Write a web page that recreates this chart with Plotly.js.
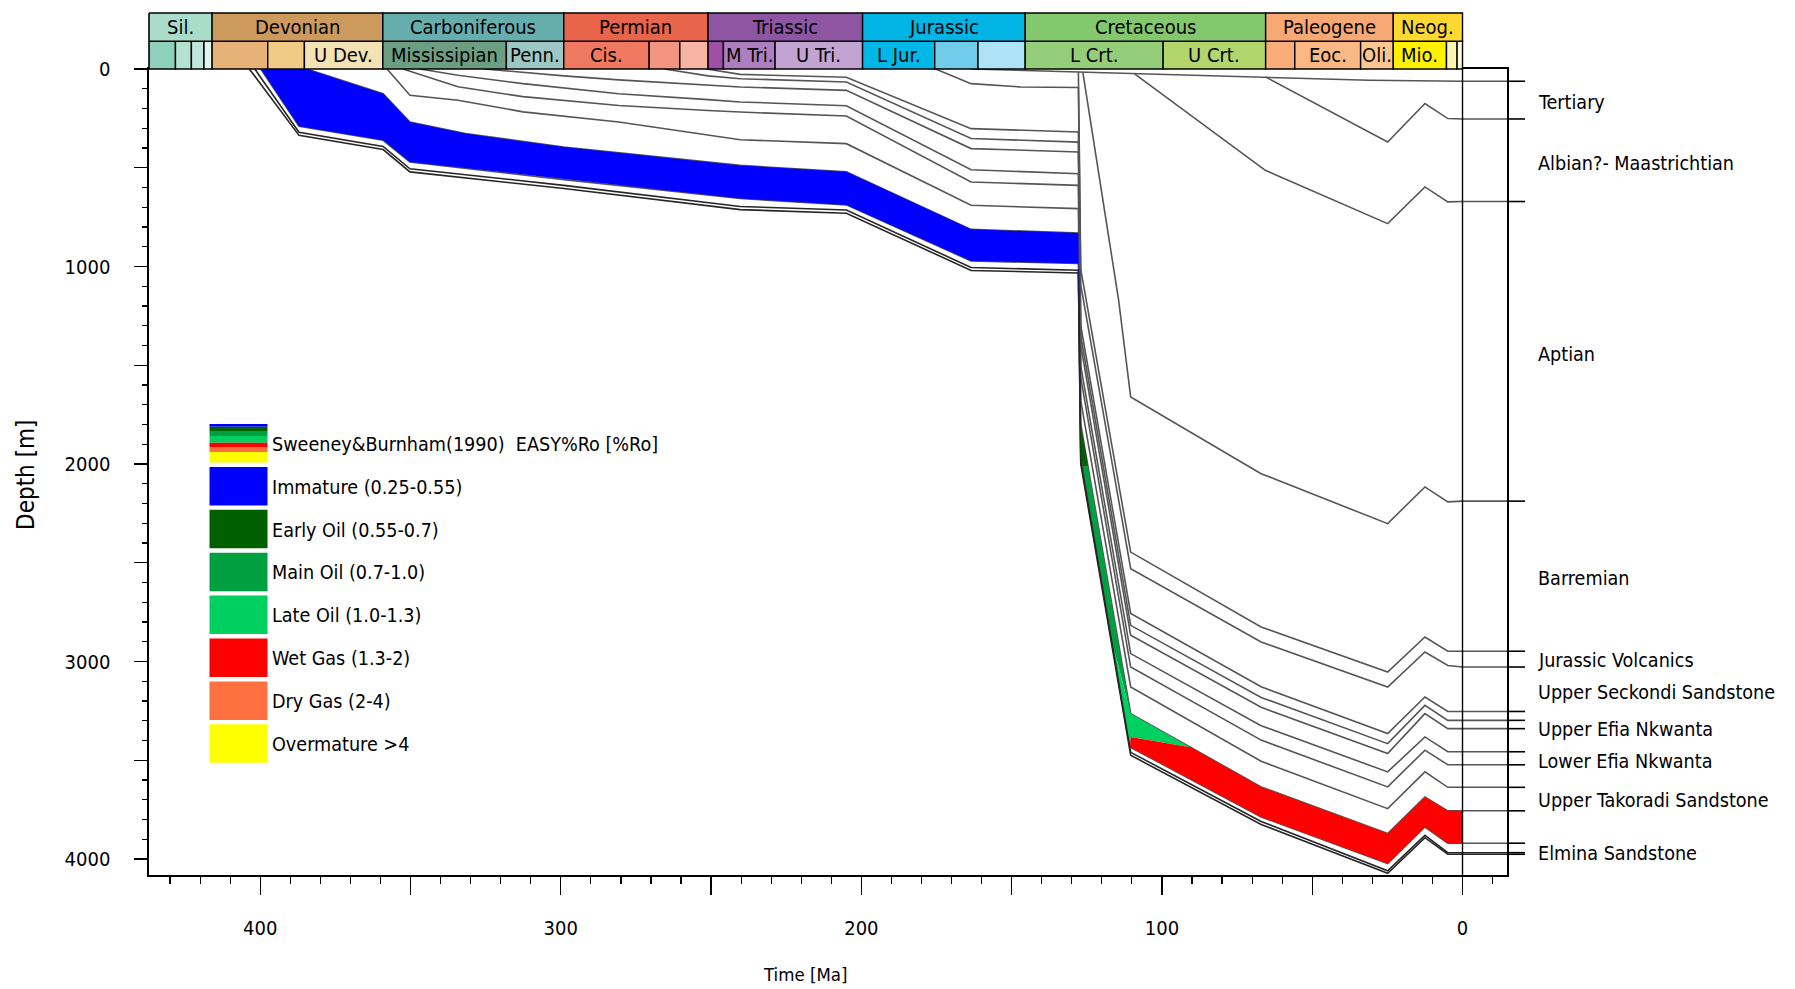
<!DOCTYPE html>
<html>
<head>
<meta charset="utf-8">
<script src="https://cdn.plot.ly/plotly-3.0.1.min.js"></script>
<style>
html, body { margin:0; padding:0; background:#ffffff; }
#chart { width:1795px; height:989px; }
</style>
</head>
<body>
<div id="chart"></div>
<script>
// ================= DATA =================
// Geological time scale (Ma)
const periodNames  = ['Sil.', 'Devonian', 'Carboniferous', 'Permian', 'Triassic', 'Jurassic', 'Cretaceous', 'Paleogene', 'Neog.'];
const periodStart  = [443.7, 416.0, 359.2, 299.0, 251.0, 199.6, 145.5, 65.5, 23.03];
const periodEnd    = [416.0, 359.2, 299.0, 251.0, 199.6, 145.5, 65.5, 23.03, 0];
const periodColors = ['#a9dcc9', '#cc9a5c', '#66adae', '#e8644a', '#8e55a3', '#00b5e4', '#84c86e', '#f8a872', '#ffd932'];

const epochNames  = ['', '', '', '', '', '', 'U Dev.', 'Mississipian', 'Penn.', 'Cis.', '', '', '', 'M Tri.', 'U Tri.', 'L Jur.', '', '', 'L Crt.', 'U Crt.', '', 'Eoc.', 'Oli.', 'Mio.', '', ''];
const epochStart  = [443.7, 428.2, 422.9, 418.7, 416.0, 397.5, 385.3, 359.2, 318.1, 299.0, 270.6, 260.4, 251.0, 245.9, 228.7, 199.6, 175.6, 161.2, 145.5, 99.6, 65.5, 55.8, 33.9, 23.03, 5.332, 1.806];
const epochEnd    = [428.2, 422.9, 418.7, 416.0, 397.5, 385.3, 359.2, 318.1, 299.0, 270.6, 260.4, 251.0, 245.9, 228.7, 199.6, 175.6, 161.2, 145.5, 99.6, 65.5, 55.8, 33.9, 23.03, 5.332, 1.806, 0];
const epochColors = ['#8dd0bc', '#b3e2d3', '#bfe6db', '#e3f4ee', '#e6b278', '#f1ca86', '#f2e2b4', '#6b9e82', '#9cc7c4',
                     '#ee7860', '#f39480', '#f8b5a3', '#a04fa8', '#ae7fbe', '#c2a3d2', '#00b7e6', '#70cce9', '#ade2f7',
                     '#95ce78', '#b3d66c', '#f9ad78', '#fab884', '#fcc690', '#fff200', '#fff5b0', '#fffad8'];

// Burial history horizons: time (Ma) and depth (m)
const topT = [127.8, 98.7, 65.6, 31.1, 0];
const topD = [15, 27, 40, 57, 62];
const tertiaryT = [65.6, 24.9, 12.5, 4.9, 0];
const tertiaryD = [40, 370, 175, 251, 253];
const albianT = [109.1, 65.6, 24.9, 12.5, 4.9, 0];
const albianD = [25, 513, 783, 597, 673, 671];
const aptianT = [126.3, 114.4, 110.4, 67, 24.9, 12.5, 4.9, 0];
const aptianD = [18, 1172, 1661, 2049, 2302, 2116, 2192, 2188];

const h1T = [163.5, 127.8, 127.0, 110.4, 67, 24.9, 12.5, 4.9, 0];
const h1D = [0, 15, 1015, 2446, 2825, 3053, 2876, 2948, 2948];
const h2T = [175.3, 163.5, 147, 127.8, 127.0, 110.4, 67, 24.9, 12.5, 4.9, 0];
const h2D = [0, 74, 91, 94, 1094, 2530, 2901, 3129, 2952, 3020, 3028];
const h3T = [251.5, 240.3, 205, 163.5, 127.8, 127.0, 110.4, 67, 24.9, 12.5, 4.9, 0];
const h3D = [0, 27, 42, 302, 319, 1300, 2757, 3128, 3365, 3180, 3253, 3253];
const h4T = [265.5, 251, 240.3, 205, 163.5, 127.8, 127.0, 110.4, 67, 24.9, 12.5, 4.9, 0];
const h4D = [0, 35, 49, 66, 352, 370, 1350, 2817, 3182, 3416, 3222, 3298, 3298];
const h5T = [325.3, 299, 280.7, 251, 240.3, 205, 163.5, 127.8, 127.0, 110.4, 67, 24.9, 12.5, 4.9, 0];
const h5D = [0, 35, 55, 80, 91, 108, 403, 420, 1400, 2867, 3232, 3466, 3264, 3340, 3340];
const h6T = [346.9, 334.2, 312.6, 280.7, 251, 240.3, 205, 163.5, 127.8, 127.0, 110.4, 67, 24.9, 12.5, 4.9, 0];
const h6D = [0, 32, 74, 125, 155, 167, 186, 510, 530, 1505, 2960, 3325, 3559, 3382, 3457, 3457];
const h7T = [352.5, 334.2, 312.6, 280.7, 251, 240.3, 205, 163.5, 127.8, 127.0, 110.4, 67, 24.9, 12.5, 4.9, 0];
const h7D = [0, 90, 140, 185, 210, 218, 238, 572, 589, 1563, 3028, 3398, 3635, 3449, 3523, 3523];
const h8T = [357.8, 350.2, 334.2, 312.6, 280.7, 251, 240.3, 205, 163.5, 127.8, 127.0, 110.4, 67, 24.9, 12.5, 4.9, 0];
const h8D = [0, 133, 158, 217, 268, 335, 358, 378, 690, 707, 1680, 3129, 3505, 3745, 3559, 3637, 3637];
const h9T = [384.5, 359.1, 350.2, 331.7, 299, 251, 240.3, 205, 163.5, 127.8, 127.0, 110.4, 67, 24.9, 12.5, 4.9, 0];
const h9D = [0, 125, 268, 327, 395, 470, 488, 520, 812, 830, 1800, 3264, 3635, 3871, 3686, 3756, 3756];
const h10T = [399.8, 387.1, 359.1, 350.2, 299, 251, 240.3, 205, 163.5, 127.8, 127.0, 110.4, 67, 24.9, 12.5, 4.9, 0];
const h10D = [0, 290, 361, 471, 560, 638, 656, 688, 972, 985, 1950, 3435, 3787, 4023, 3838, 3920, 3920];
const h11T = [401.8, 387.1, 359.1, 350.2, 299, 251, 240.3, 205, 163.5, 127.8, 127.0, 110.4, 67, 24.9, 12.5, 4.9, 0];
const h11D = [0, 320, 392, 505, 589, 674, 696, 714, 1005, 1019, 1985, 3460, 3810, 4060, 3880, 3968, 3968];
const h12T = [403.6, 387.1, 359.1, 350.2, 299, 251, 240.3, 205, 163.5, 127.8, 127.0, 110.4, 67, 24.9, 12.5, 4.9, 0];
const h12D = [0, 336, 408, 521, 605, 690, 712, 730, 1020, 1033, 2000, 3475, 3825, 4072, 3892, 3976, 3976];

// Maturity (EASY%Ro) zone boundaries inside the source layer (top h9, base h10)
const roImmatureBaseDepth = 1800;   // 0.55 %Ro
const roEarlyOilBaseDepth = 2010;   // 0.7 %Ro
const roMainOilBaseDepthBase = 2930; // 1.0 %Ro on layer base
const roMainOilBaseTimeTop = 110.4;  // 1.0 %Ro on layer top
const roLateOilBaseDepthBase = 3420; // 1.3 %Ro on layer base
const roLateOilT = [110.4];
const roLateOilD = [3382];
const roLateOilTimeTop = 90.5;

// Formation labels (right side)
const formationLabels = ['Tertiary', 'Albian?- Maastrichtian', 'Aptian', 'Barremian', 'Jurassic Volcanics',
  'Upper Seckondi Sandstone', 'Upper Efia Nkwanta', 'Lower Efia Nkwanta', 'Upper Takoradi Sandstone', 'Elmina Sandstone'];
const formationLabelDepth = [168, 480, 1447, 2578, 2996, 3155, 3345, 3504, 3703, 3973];

// Legend
const legendTitle = 'Sweeney&Burnham(1990)\u00a0\u00a0EASY%Ro [%Ro]';
const legendLabels = ['Immature (0.25-0.55)', 'Early Oil (0.55-0.7)', 'Main Oil (0.7-1.0)', 'Late Oil (1.0-1.3)',
  'Wet Gas (1.3-2)', 'Dry Gas (2-4)', 'Overmature >4'];
const legendColors = ['#0000ff', '#006000', '#00a040', '#00d060', '#ff0000', '#ff7040', '#ffff00'];
const gradientShare = [0.07, 0.11, 0.13, 0.18, 0.11, 0.13, 0.27];

// Axis ticks
const xTickVals = [400, 350, 300, 250, 200, 150, 100, 50, 0];
const xTickText = ['400', '', '300', '', '200', '', '100', '', '0'];
const yTickVals = [0, 500, 1000, 1500, 2000, 2500, 3000, 3500, 4000];
const yTickText = ['0', '', '1000', '', '2000', '', '3000', '', '4000'];

// ================= LAYOUT GEOMETRY =================
const W = 1795, H = 989;
const L = 149, R = 1507, T = 69, B = 875;
const X_RANGE = [437, -14.8];
const Y_RANGE = [4081, 0];
const px = X => (X - L) / (R - L);
const py = Y => (B - Y) / (B - T);
const FONT = "'DejaVu Sans Condensed', 'Liberation Sans', sans-serif";

// ================= HELPERS =================
function hz(t, d) { return {t: t, d: d}; }
function depthAt(h, time) {
  for (let i = 0; i < h.t.length - 1; i++) {
    const t0 = h.t[i], t1 = h.t[i + 1];
    if (time <= t0 && time >= t1) {
      const f = t0 === t1 ? 0 : (t0 - time) / (t0 - t1);
      return h.d[i] + f * (h.d[i + 1] - h.d[i]);
    }
  }
  return time > h.t[0] ? h.d[0] : h.d[h.d.length - 1];
}
function timeAt(h, depth, tFrom, tTo) {
  for (let i = 0; i < h.t.length - 1; i++) {
    const t0 = h.t[i], t1 = h.t[i + 1], d0 = h.d[i], d1 = h.d[i + 1];
    if (t0 > tFrom + 1e-9 || t1 < tTo - 1e-9) continue;
    if ((d0 - depth) * (d1 - depth) <= 0 && d0 !== d1) {
      return t0 + (depth - d0) / (d1 - d0) * (t1 - t0);
    }
  }
  return tTo;
}
function seg(h, tA, tB) { // tA older (larger) -> tB younger
  const pts = [[tA, depthAt(h, tA)]];
  for (let i = 0; i < h.t.length; i++) if (h.t[i] < tA && h.t[i] > tB) pts.push([h.t[i], h.d[i]]);
  pts.push([tB, depthAt(h, tB)]);
  return pts;
}

const H_TOP = hz(h9T, h9D), H_BASE = hz(h10T, h10D);
const horizons = [
  hz(topT, topD), hz(tertiaryT, tertiaryD), hz(albianT, albianD), hz(aptianT, aptianD),
  hz(h1T, h1D), hz(h2T, h2D), hz(h3T, h3D), hz(h4T, h4D), hz(h5T, h5D), hz(h6T, h6D),
  hz(h7T, h7D), hz(h8T, h8D), H_TOP, H_BASE, hz(h11T, h11D), hz(h12T, h12D)
];

// ================= MATURITY POLYGONS =================
const riftStart = 127.8, riftEnd = 110.4;
const tg1 = timeAt(H_TOP, roImmatureBaseDepth, riftStart, riftEnd);
const tj1 = timeAt(H_BASE, roImmatureBaseDepth, riftStart, riftEnd);
const tg2 = timeAt(H_TOP, roEarlyOilBaseDepth, riftStart, riftEnd);
const tj2 = timeAt(H_BASE, roEarlyOilBaseDepth, riftStart, riftEnd);
const tj3 = timeAt(H_BASE, roMainOilBaseDepthBase, riftStart, riftEnd);
const tj4 = timeAt(H_BASE, roLateOilBaseDepthBase, riftStart, riftEnd);

function rev(a) { return a.slice().reverse(); }
const zonePolys = [
  seg(H_TOP, H_TOP.t[0], tg1).concat(rev(seg(H_BASE, H_BASE.t[0], tj1))),
  seg(H_TOP, tg1, tg2).concat(rev(seg(H_BASE, tj1, tj2))),
  seg(H_TOP, tg2, roMainOilBaseTimeTop).concat(rev(seg(H_BASE, tj2, tj3))),
  seg(H_TOP, roMainOilBaseTimeTop, roLateOilTimeTop)
    .concat(roLateOilT.map((t, i) => [t, roLateOilD[i]]))
    .concat(rev(seg(H_BASE, tj3, tj4))),
  [[tj4, roLateOilBaseDepthBase]].concat(roLateOilT.map((t, i) => [t, roLateOilD[i]]))
    .concat(seg(H_TOP, roLateOilTimeTop, 0))
    .concat(rev(seg(H_BASE, tj4, 0)))
];

// ================= TRACES =================
const traces = [];
horizons.forEach((h, i) => {
  const tt = h.t.concat([X_RANGE[1]]);
  const dd = h.d.concat([h.d[h.d.length - 1]]);
  traces.push({
    type: 'scatter', mode: 'lines', x: tt, y: dd,
    line: {color: i >= 14 ? '#262626' : '#555555', width: 1.6},
    hoverinfo: 'skip', showlegend: false
  });
});
zonePolys.forEach((poly, i) => {
  traces.push({
    type: 'scatter', mode: 'lines', x: poly.map(p => p[0]), y: poly.map(p => p[1]),
    fill: 'toself', fillcolor: legendColors[i], line: {width: 0, color: legendColors[i]},
    hoverinfo: 'skip', showlegend: false
  });
});

// ================= SHAPES & ANNOTATIONS =================
const shapes = [];
const annotations = [];
const rowBot = 1.0, rowMid = 1.0345, rowTop = 1.0695;
const BAR_FONT = {family: FONT, size: 20, color: '#000'};
const TXT_FONT = {family: FONT, size: 19.6, color: '#000'};

epochStart.forEach((s, i) => {
  shapes.push({type: 'rect', xref: 'x', yref: 'paper', x0: s, x1: epochEnd[i], y0: rowBot, y1: rowMid,
    fillcolor: epochColors[i], line: {color: '#000', width: 1.4}, layer: 'above'});
  if (epochNames[i]) {
    const a = Math.min(s, X_RANGE[0]);
    annotations.push({xref: 'x', yref: 'paper', x: (a + epochEnd[i]) / 2, y: (rowBot + rowMid) / 2,
      text: epochNames[i], showarrow: false, font: BAR_FONT, xanchor: 'center', yanchor: 'middle'});
  }
});
periodStart.forEach((s, i) => {
  shapes.push({type: 'rect', xref: 'x', yref: 'paper', x0: s, x1: periodEnd[i], y0: rowMid, y1: rowTop,
    fillcolor: periodColors[i], line: {color: '#000', width: 1.4}, layer: 'above'});
  const a = Math.min(s, X_RANGE[0]);
  annotations.push({xref: 'x', yref: 'paper', x: (a + periodEnd[i]) / 2, y: (rowMid + rowTop) / 2,
    text: periodNames[i], showarrow: false, font: BAR_FONT, xanchor: 'center', yanchor: 'middle'});
});
shapes.push({type: 'line', xref: 'paper', yref: 'paper', x0: 0, x1: 0, y0: rowBot, y1: rowTop,
  line: {color: '#000', width: 1.6}});

// present-day vertical line
shapes.push({type: 'line', xref: 'x', yref: 'y', x0: 0, x1: 0, y0: Y_RANGE[1], y1: Y_RANGE[0],
  line: {color: '#000', width: 1.4}, layer: 'above'});

// horizon ticks outside the right frame
horizons.forEach(h => {
  shapes.push({type: 'line', xref: 'paper', yref: 'y', x0: 1, x1: 1 + 18 / (R - L),
    y0: h.d[h.d.length - 1], y1: h.d[h.d.length - 1], line: {color: '#000', width: 1.6}});
});

// formation labels
formationLabels.forEach((lab, i) => {
  annotations.push({xref: 'paper', yref: 'y', x: px(1536), y: formationLabelDepth[i], text: lab,
    showarrow: false, xanchor: 'left', yanchor: 'middle', font: TXT_FONT});
});

// legend
const swX0 = px(209.5), swX1 = px(267.5);
const rowStep = 42.9, rowH = 38.5, firstTop = 424;
{
  let y = firstTop;
  gradientShare.forEach((f, i) => {
    const hgt = f * rowH;
    shapes.push({type: 'rect', xref: 'paper', yref: 'paper', x0: swX0, x1: swX1, y0: py(y + hgt), y1: py(y),
      fillcolor: legendColors[i], line: {width: 0}, layer: 'above'});
    y += hgt;
  });
  annotations.push({xref: 'paper', yref: 'paper', x: px(270), y: py(firstTop + rowH / 2 + 1), text: legendTitle,
    showarrow: false, xanchor: 'left', yanchor: 'middle', font: TXT_FONT});
}
legendLabels.forEach((lab, i) => {
  const top = firstTop + (i + 1) * rowStep;
  shapes.push({type: 'rect', xref: 'paper', yref: 'paper', x0: swX0, x1: swX1, y0: py(top + rowH), y1: py(top),
    fillcolor: legendColors[i], line: {width: 0}, layer: 'above'});
  annotations.push({xref: 'paper', yref: 'paper', x: px(270), y: py(top + rowH / 2 + 1), text: lab,
    showarrow: false, xanchor: 'left', yanchor: 'middle', font: TXT_FONT});
});

// axis titles
annotations.push({xref: 'paper', yref: 'paper', x: px(805), y: py(974), text: 'Time [Ma]', showarrow: false,
  xanchor: 'center', yanchor: 'middle', font: {family: FONT, size: 18.5, color: '#000'}});
annotations.push({xref: 'paper', yref: 'paper', x: px(26), y: py(475), text: 'Depth [m]', showarrow: false,
  textangle: -90, xanchor: 'center', yanchor: 'middle', font: {family: FONT, size: 24, color: '#000'}});

const layout = {
  width: W, height: H,
  margin: {l: L, r: W - R, t: T, b: H - B, pad: 0},
  paper_bgcolor: '#ffffff', plot_bgcolor: '#ffffff',
  showlegend: false,
  xaxis: {
    range: X_RANGE, showgrid: false, zeroline: false,
    showline: true, linecolor: '#000', linewidth: 1.6, mirror: true,
    tickmode: 'array', tickvals: xTickVals, ticktext: xTickText,
    ticks: 'outside', ticklen: 18, tickwidth: 1.4, tickcolor: '#000',
    ticklabelstandoff: 16,
    tickfont: {family: FONT, size: 20, color: '#000'},
    minor: {tickmode: 'linear', tick0: 0, dtick: 10, ticks: 'outside', ticklen: 7, tickwidth: 1.2, tickcolor: '#000', showgrid: false}
  },
  yaxis: {
    range: Y_RANGE, showgrid: false, zeroline: false,
    showline: true, linecolor: '#000', linewidth: 1.6, mirror: true,
    tickmode: 'array', tickvals: yTickVals, ticktext: yTickText,
    ticks: 'outside', ticklen: 13, tickwidth: 1.4, tickcolor: '#000',
    ticklabelstandoff: 20,
    tickfont: {family: FONT, size: 20, color: '#000'},
    minor: {tickmode: 'linear', tick0: 0, dtick: 100, ticks: 'outside', ticklen: 5, tickwidth: 1.2, tickcolor: '#000', showgrid: false}
  },
  shapes: shapes,
  annotations: annotations
};

Plotly.newPlot('chart', traces, layout, {displayModeBar: false, staticPlot: true});
</script>
</body>
</html>
